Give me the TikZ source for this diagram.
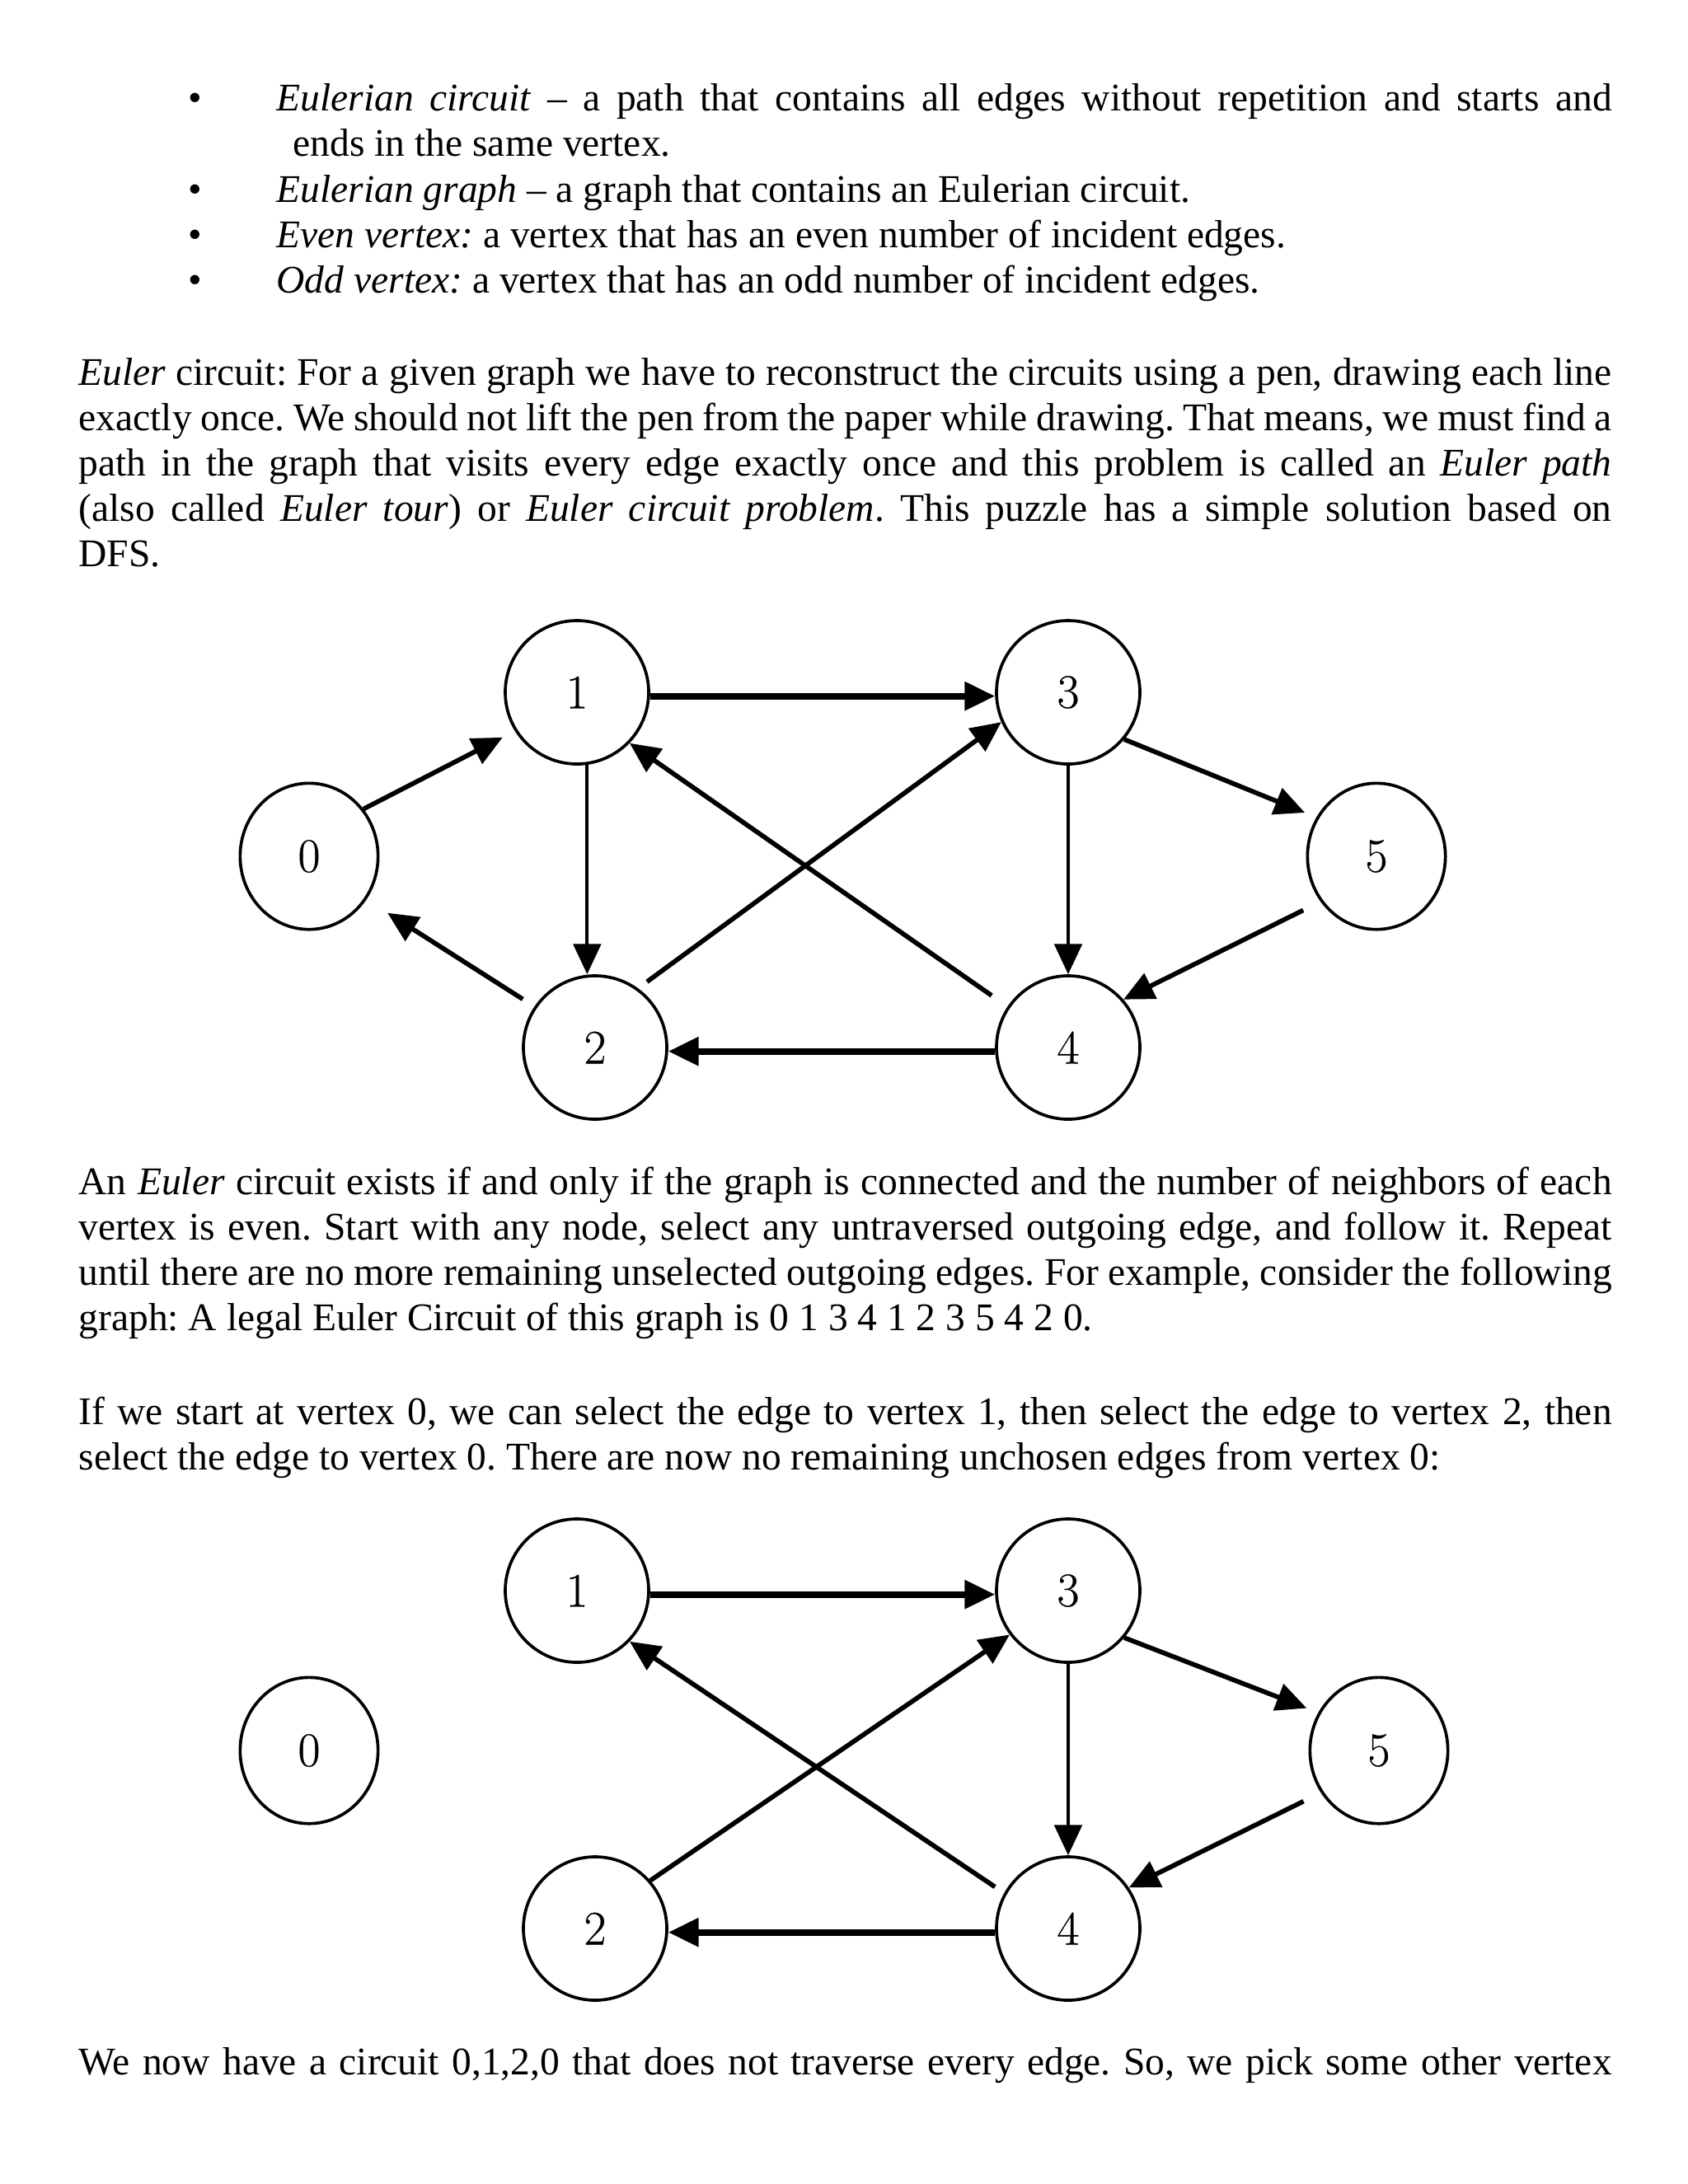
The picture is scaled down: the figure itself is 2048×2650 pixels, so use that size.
\documentclass[tikz,border=0pt]{standalone}
\usepackage{fontspec}
\setmainfont{Liberation Serif}
\newfontfamily\lmfont[FakeBold=0.5]{Latin Modern Roman}
\usetikzlibrary{shapes.geometric, arrows.meta}
\frenchspacing

\begin{document}
\begin{tikzpicture}[
    x=0.29883pt, y=-0.29883pt,
    para/.style={anchor=base west, inner sep=0pt, align=justify,
      text width=555.8pt, font=\fontsize{14.2pt}{16.5pt}\selectfont},
    itemtxt/.style={anchor=base west, inner sep=0pt,
      font=\fontsize{14.2pt}{16.5pt}\selectfont},
    vertex/.style={ellipse, draw, line width=1.1pt,
      minimum width=52pt, minimum height=52pt, inner sep=0pt,
      font=\lmfont\fontsize{17.5pt}{17.5pt}\selectfont},
    side/.style={vertex, minimum width=50pt, minimum height=53pt},
    link/.style={line width=1.7pt, -{Triangle[length=11pt, width=10pt]}},
    thinlink/.style={link, line width=1.2pt},
    thicklink/.style={link, line width=2.3pt}
  ]
  \useasboundingbox (0,0) rectangle (2048,2650);
  \fill[white] (0,0) rectangle (2048,2650);

  % definitions
  \node[itemtxt] (dot1) at (228,134) {•};
  \node[itemtxt, text width=484.1pt, align=justify] (def1) at (335,134)
    {\textit{Eulerian circuit} – a path that contains all edges without repetition and starts and\linebreak\hspace*{6pt}ends in the same vertex.};
  \node[itemtxt] (dot2) at (228,245) {•};
  \node[itemtxt] (def2) at (335,245) {\textit{Eulerian graph} – a graph that contains an Eulerian circuit.};
  \node[itemtxt] (dot3) at (228,300) {•};
  \node[itemtxt] (def3) at (335,300) {\textit{Even vertex:} a vertex that has an even number of incident edges.};
  \node[itemtxt] (dot4) at (228,355) {•};
  \node[itemtxt] (def4) at (335,355) {\textit{Odd vertex:} a vertex that has an odd number of incident edges.};

  \node[para] (intro) at (95,467)
    {\textit{Euler} circuit: For a given graph we have to reconstruct the circuits using a pen, drawing each line\linebreak
     exactly once. We should not lift the pen from the paper while drawing. That means, we must find a\linebreak
     path in the graph that visits every edge exactly once and this problem is called an \textit{Euler path}\linebreak
     (also called \textit{Euler tour}) or \textit{Euler circuit problem}. This puzzle has a simple solution based on\linebreak
     DFS.};

  % first graph
  \node[side] (a0) at (375,1039) {0};
  \node[vertex] (a1) at (700,840) {1};
  \node[vertex] (a3) at (1296,840) {3};
  \node[side] (a5) at (1670,1039) {5};
  \node[vertex] (a2) at (722,1271) {2};
  \node[vertex] (a4) at (1296,1271) {4};

  \draw[link, shorten >=5pt] (a0.41) -- (a1.212);
  \draw[thicklink] (a1.-3) -- (a3.183);
  \draw[thinlink] (a1.-82) -- (a1.-82 |- a2.north);
  \draw[link, shorten <=4pt] (a2.54) -- (a3.204);
  \draw[link, shorten <=7pt] (a4.146) -- (a1.-44);
  \draw[link, shorten >=4.5pt] (a3.-40) -- (a5.147);
  \draw[thinlink] (a3.south) -- (a4.north);
  \draw[link, shorten <=7pt] (a5.-141) -- (a4.41);
  \draw[thicklink] (a4.183) -- (a2.-3);
  \draw[link, shorten <=5pt, shorten >=9pt] (a2.146) -- (a0.-37);

  \node[para] (rule) at (95,1449)
    {An \textit{Euler} circuit exists if and only if the graph is connected and the number of neighbors of each\linebreak
     vertex is even. Start with any node, select any untraversed outgoing edge, and follow it. Repeat\linebreak
     until there are no more remaining unselected outgoing edges. For example, consider the following\linebreak
     graph: A legal Euler Circuit of this graph is 0 1 3 4 1 2 3 5 4 2 0.};

  \node[para] (start) at (95,1728)
    {If we start at vertex 0, we can select the edge to vertex 1, then select the edge to vertex 2, then\linebreak
     select the edge to vertex 0. There are now no remaining unchosen edges from vertex 0:};

  % second graph
  \node[side] (b0) at (375,2124) {0};
  \node[vertex] (b1) at (700,1930) {1};
  \node[vertex] (b3) at (1296,1930) {3};
  \node[side] (b5) at (1673,2124) {5};
  \node[vertex] (b2) at (722,2340) {2};
  \node[vertex] (b4) at (1296,2340) {4};

  \draw[thicklink] (b1.-3) -- (b3.183);
  \draw[link, shorten <=4pt] (b4.151) -- (b1.-44);
  \draw[link] (b2.41) -- (b3.217);
  \draw[link, shorten >=4.5pt] (b3.-40) -- (b5.148);
  \draw[thinlink] (b3.south) -- (b4.north);
  \draw[link, shorten <=7pt] (b5.-144) -- (b4.34);
  \draw[thicklink] (b4.183) -- (b2.-3);

  \node[para] (rest) at (95,2517)
    {We now have a circuit 0,1,2,0 that does not traverse every edge. So, we pick some other vertex\linebreak\mbox{}};
\end{tikzpicture}
\end{document}
